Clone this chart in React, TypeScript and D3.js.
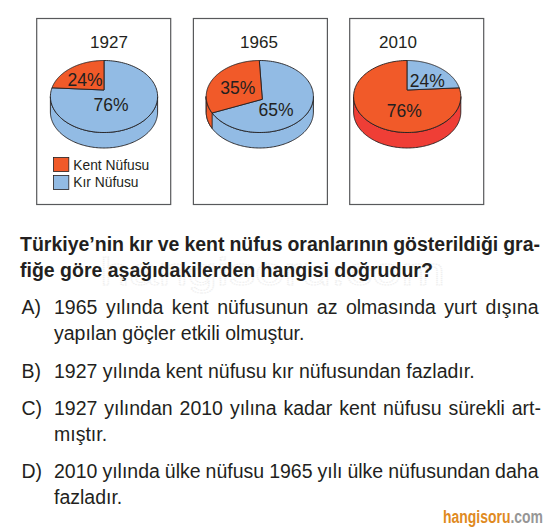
import React from "react";
import * as d3 from "d3";

const C_KENT = "#F15A29", C_KIR = "#92BBE4", C_DARK = "#EF3E36", INK = "#231F20";
const SANS = "'Liberation Sans', Arial, sans-serif";

const years = ["1927", "1965", "2010"];
const kent = [24, 35, 76];
const kir = [76, 65, 24];

const legendLabels = ["Kent Nüfusu", "Kır Nüfusu"];
const question = [
  "Türkiye’nin kır ve kent nüfus oranlarının gösterildiği gra-",
  "fiğe göre aşağıdakilerden hangisi doğrudur?",
];
const optionLetters = ["A)", "B)", "C)", "D)"];
const optionLines = [
  ["1965 yılında kent nüfusunun az olmasında yurt dışına", "yapılan göçler etkili olmuştur."],
  ["1927 yılında kent nüfusu kır nüfusundan fazladır."],
  ["1927 yılından 2010 yılına kadar kent nüfusu sürekli art-", "mıştır."],
  ["2010 yılında ülke nüfusu 1965 yılı ülke nüfusundan daha", "fazladır."],
];
const optionY = [314, 378, 415, 478];
const optionEnd = [538.5, 0, 541, 538.5];

const panels = [
  { left: 36.7, cx: 104, ax: 104, ay: 90, rot: 0, sweep: 1, wedgeKent: true, dir: -1, yearX: 109, lab: [[85, 85.7], [111, 111]] },
  { left: 193.4, cx: 259.8, ax: 262.3, ay: 99.3, rot: -0.052, sweep: 0.866, wedgeKent: true, dir: -1, yearX: 259, lab: [[237.7, 94], [276, 116]] },
  { left: 349.7, cx: 407.2, ax: 407.2, ay: 90, rot: 0, sweep: 1, wedgeKent: false, dir: 1, yearX: 398, lab: [[427.3, 86.7], [404.3, 116.7]] },
];

const RX = 53.6, RY = 36, CY = 96.5, DEPTH = 15.5;
const angle = d3.scaleLinear().domain([0, 100]).range([0, 2 * Math.PI]);

function rim(cx: number, cy: number, t: number): [number, number] {
  return [cx + RX * Math.sin(t), cy - RY * Math.cos(t)];
}
// Where a ray from the pie's apex, at angle a, meets the top ellipse
function hit(p: any, a: number): [number, number] {
  const dx = Math.sin(a), dy = -Math.cos(a);
  const ox = (p.ax - p.cx) / RX, oy = (p.ay - CY) / RY;
  const b = ox * dx + oy * dy;
  const s = -b + Math.sqrt(b * b - (ox * ox + oy * oy - 1));
  return [p.ax + s * RX * dx, p.ay + s * RY * dy];
}
const tOf = (p: any, pt: [number, number]) => Math.atan2((pt[0] - p.cx) / RX, -(pt[1] - CY) / RY);
const line = d3.line();
const ring = (cx: number, cy: number, t0: number, t1: number) =>
  d3.range(0, 121).map((i) => rim(cx, cy, t0 + ((t1 - t0) * i) / 120));

function Pie({ i }: { i: number }) {
  const p = panels[i];
  const wedgeValue = p.wedgeKent ? kent[i] : kir[i];
  const span = angle(wedgeValue) * p.sweep;
  const a0 = p.dir < 0 ? p.rot - span : p.rot;
  const a1 = p.dir < 0 ? p.rot : p.rot + span;
  const wedgeCol = p.wedgeKent ? C_KENT : C_KIR;
  const restCol = p.wedgeKent ? C_KIR : C_KENT;
  const sideBase = i === 2 ? C_DARK : C_KIR;
  const sidePath = (t0: number, t1: number) => {
    const up = ring(p.cx, CY, t0, t1);
    const down = ring(p.cx, CY + DEPTH, t1, t0);
    return line([...up, ...down] as any) + "Z";
  };
  const slicePath = (s: number, e: number) => {
    const t0 = tOf(p, hit(p, s));
    let t1 = tOf(p, hit(p, e));
    while (t1 <= t0) t1 += 2 * Math.PI;
    return line([[p.ax, p.ay], ...ring(p.cx, CY, t0, t1)] as any) + "Z";
  };
  const edgeT = tOf(p, hit(p, a0));
  const edgeFront = edgeT < 0 ? edgeT + 2 * Math.PI : edgeT;
  return (
    <g stroke={INK} strokeWidth={0.9} strokeLinejoin="round">
      <path d={sidePath(Math.PI / 2, 1.5 * Math.PI)} fill={sideBase} />
      {i === 1 && <path d={sidePath(edgeFront, 1.5 * Math.PI)} fill={C_KENT} />}
      <path d={slicePath(a1, a0 + 2 * Math.PI)} fill={restCol} />
      <path d={slicePath(a0, a1)} fill={wedgeCol} />
    </g>
  );
}

function useJustify() {
  return React.useMemo(() => {
    const ctx = document.createElement("canvas").getContext("2d")!;
    return (t: string, font: string, width: number) => {
      ctx.font = font;
      const gaps = t.split(" ").length - 1;
      return (width - ctx.measureText(t).width) / gaps;
    };
  }, []);
}

export default function App() {
  const justify = useJustify();
  const FS = 19.5;
  return (
    <svg
      width={545}
      height={531}
      style={{ position: "absolute", left: 0, top: 0, background: "#fff", fontFamily: SANS }}
    >
      <text
        x={100}
        y={285}
        fontSize={38}
        textLength={345}
        lengthAdjust="spacingAndGlyphs"
        fill="none"
        stroke="#EFEFEF"
        strokeWidth={1.1}
        strokeDasharray="1.2 0.8"
      >
        hangisoru.com
      </text>
      {panels.map((p, i) => (
        <g key={i}>
          <rect x={p.left} y={18.5} width={134} height={186} fill="none" stroke="#58595B" strokeWidth={1.2} />
          <text x={p.yearX} y={48} textAnchor="middle" fontSize={17} fill={INK}>
            {years[i]}
          </text>
          <Pie i={i} />
          <text x={p.lab[0][0]} y={p.lab[0][1]} textAnchor="middle" fontSize={17.5} fill={INK}>
            {(i === 2 ? kir[i] : kent[i]) + "%"}
          </text>
          <text x={p.lab[1][0]} y={p.lab[1][1]} textAnchor="middle" fontSize={17.5} fill={INK}>
            {(i === 2 ? kent[i] : kir[i]) + "%"}
          </text>
        </g>
      ))}
      {legendLabels.map((l, i) => (
        <g key={l}>
          <rect x={53.5} y={157.5 + i * 18} width={15.3} height={14} fill={i === 0 ? C_KENT : C_KIR} stroke={INK} strokeWidth={0.8} />
          <text x={73.3} y={170 + i * 17.3} fontSize={13.8} fill={INK}>
            {l}
          </text>
        </g>
      ))}
      {question.map((q, i) => (
        <text
          key={i}
          x={20}
          y={251 + i * 25.7}
          fontSize={FS}
          fontWeight={700}
          fill={INK}
          wordSpacing={i === 0 ? justify(q, `bold ${FS}px ${SANS}`, 520) : undefined}
        >
          {q}
        </text>
      ))}
      {optionLetters.map((l, i) => (
        <g key={l} fontSize={FS} fill={INK}>
          <text x={21.5} y={optionY[i]}>{l}</text>
          {optionLines[i].map((t, k) => (
            <text
              key={k}
              x={54}
              y={optionY[i] + k * 26.3}
              wordSpacing={k === 0 && optionEnd[i] ? justify(t, `${FS}px ${SANS}`, optionEnd[i] - 54) : undefined}
            >
              {t}
            </text>
          ))}
        </g>
      ))}
      <text
        x={443}
        y={523}
        fontSize={17.5}
        fontWeight={700}
        fontFamily="'Liberation Sans Narrow', 'Liberation Sans', sans-serif"
        textLength={100}
        lengthAdjust="spacingAndGlyphs"
      >
        <tspan fill="#E08A1E">hangisoru</tspan>
        <tspan fill="#969696">.com</tspan>
      </text>
    </svg>
  );
}
